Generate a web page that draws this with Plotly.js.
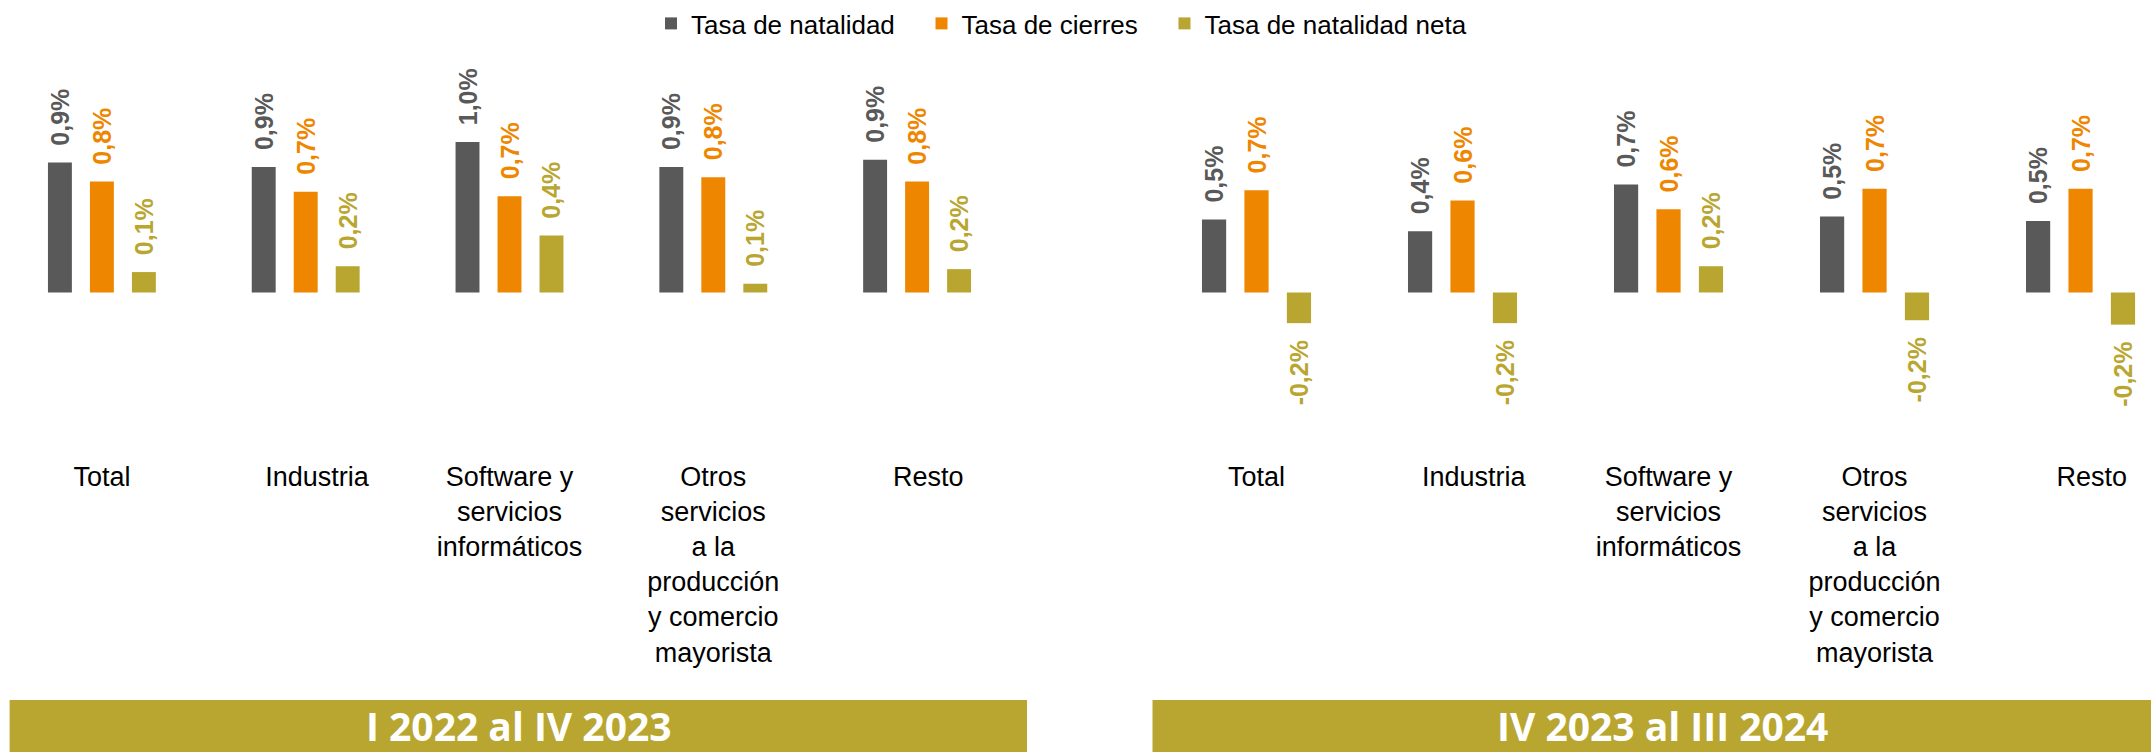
<!DOCTYPE html>
<html>
<head>
<meta charset="utf-8">
<script src="https://cdn.plot.ly/plotly-3.0.1.min.js"></script>
<style>html,body{margin:0;padding:0;background:#fff;}</style>
</head>
<body>
<div id="chart" style="width:2151px;height:752px;"></div>
<script>
// ---- data ----
var categorias = ["Total", "Industria", "Software", "Otros servicios", "Resto"];
var etiquetasEje = [
  "Total",
  "\u00a0\u00a0\u00a0Industria",
  "Software y<br>servicios<br>informáticos",
  "Otros<br>servicios<br>a la<br>producción<br>y comercio<br>mayorista",
  "\u00a0\u00a0\u00a0Resto"
];
var series = ["Tasa de natalidad", "Tasa de cierres", "Tasa de natalidad neta"];
var periodos = ["I 2022 al IV 2023", "IV 2023 al III 2024"];

var natalidad1 = [0.89, 0.86, 1.03, 0.86, 0.91];
var cierres1   = [0.76, 0.69, 0.66, 0.79, 0.76];
var neta1      = [0.14, 0.18, 0.39, 0.06, 0.16];

var natalidad2 = [0.50, 0.42, 0.74, 0.52, 0.49];
var cierres2   = [0.70, 0.63, 0.57, 0.71, 0.71];
var neta2      = [-0.21, -0.21, 0.18, -0.19, -0.22];

var colores = ["#595959", "#EE8600", "#B9A631"];

// ---- helpers ----
function fmt(v) {
  var s = v.toFixed(1).replace(".", ",") + "%";
  var pad = "\u00a0\u00a0";
  return v >= 0 ? pad + s : s + pad;
}

var W = 2151, H = 752;
function px(x) { return x / W; }
function py(y) { return (H - y) / H; }

var txtFamily = "Liberation Sans, Arial, sans-serif";

function makeTrace(vals, i, xa, ya, legend) {
  return {
    type: "bar",
    x: categorias,
    y: vals,
    name: series[i] + (i < 2 ? "\u00a0\u00a0\u00a0" : ""),
    legendgroup: "s" + i,
    showlegend: legend,
    xaxis: xa,
    yaxis: ya,
    marker: { color: colores[i] },
    text: vals.map(fmt),
    textposition: "outside",
    textangle: -90,
    constraintext: "none",
    cliponaxis: false,
    textfont: { family: txtFamily, size: 25, weight: 700, color: colores[i] },
    hoverinfo: "skip"
  };
}

var data = [
  makeTrace(natalidad1, 0, "x", "y", true),
  makeTrace(cierres1, 1, "x", "y", true),
  makeTrace(neta1, 2, "x", "y", true),
  makeTrace(natalidad2, 0, "x2", "y2", false),
  makeTrace(cierres2, 1, "x2", "y2", false),
  makeTrace(neta2, 2, "x2", "y2", false)
];

var tickFont = { family: txtFamily, size: 27, color: "#000000" };
var yDom = [py(450), py(50)];
var yRange = [-1.0788, 1.661];

var xBase = {
  type: "category",
  showgrid: false, zeroline: false, showline: false, ticks: "",
  tickfont: tickFont,
  tickvals: categorias,
  ticktext: etiquetasEje,
  tickangle: 0,
  ticklabelstandoff: 8,
  fixedrange: true
};

var layout = {
  width: W, height: H,
  margin: { l: 0, r: 0, t: 0, b: 0, pad: 0 },
  paper_bgcolor: "#ffffff",
  plot_bgcolor: "rgba(0,0,0,0)",
  barmode: "group",
  bargap: 0.382,
  bargroupgap: 0.43,
  showlegend: true,
  legend: {
    orientation: "h",
    x: px(651), xanchor: "left",
    y: 1, yanchor: "top",
    font: { family: txtFamily, size: 26, color: "#000000" },
    bgcolor: "rgba(0,0,0,0)",
    traceorder: "normal"
  },
  xaxis: Object.assign({}, xBase, { domain: [0, px(1019)], range: [-0.5, 4.5], anchor: "y" }),
  xaxis2: Object.assign({}, xBase, { domain: [px(1153.5), 1], range: [-0.5, 4.342], anchor: "y2" }),
  yaxis: { domain: yDom, range: yRange, visible: false, fixedrange: true, anchor: "x" },
  yaxis2: { domain: yDom, range: yRange, visible: false, fixedrange: true, anchor: "x2" },
  shapes: [
    { type: "rect", xref: "paper", yref: "paper", x0: px(9.6), x1: px(1027), y0: 0, y1: py(700), fillcolor: colores[2], line: { width: 0 }, layer: "below" },
    { type: "rect", xref: "paper", yref: "paper", x0: px(1152.5), x1: 1, y0: 0, y1: py(700), fillcolor: colores[2], line: { width: 0 }, layer: "below" }
  ],
  annotations: [
    { xref: "paper", yref: "paper", x: px(519), y: py(725), xanchor: "center", yanchor: "middle", showarrow: false, borderpad: 0,
      text: periodos[0], font: { family: "Open Sans, sans-serif", size: 39, weight: 700, color: "#ffffff" } },
    { xref: "paper", yref: "paper", x: px(1662), y: py(725), xanchor: "center", yanchor: "middle", showarrow: false, borderpad: 0,
      text: periodos[1], font: { family: "Open Sans, sans-serif", size: 39, weight: 700, color: "#ffffff" } }
  ]
};

Plotly.newPlot("chart", data, layout, { staticPlot: true, displayModeBar: false });
</script>
</body>
</html>
